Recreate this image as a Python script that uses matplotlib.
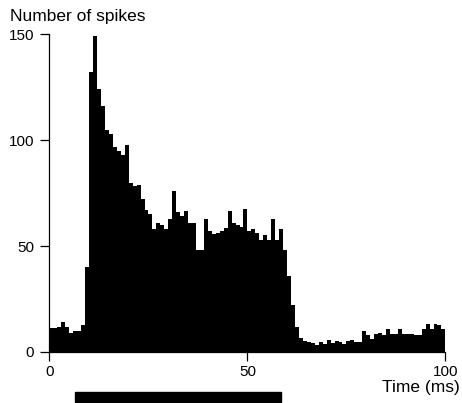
"""
Peristimulus time histogram: spike counts per 1 ms bin, with the stimulus bar below.
"""
import matplotlib
matplotlib.use("Agg")
import numpy as np
import matplotlib.pyplot as plt
import matplotlib.transforms as mtransforms
from matplotlib.patches import Rectangle

plt.rcParams['font.family'] = ['Liberation Sans', 'DejaVu Sans']

# Bin edges (ms) and spike counts per bin.
bin_edges = np.arange(0, 101, 1)
spike_counts = [
    11.5, 11.5, 12, 14, 12, 9, 10, 10, 12.7, 40,
    132, 149, 124, 116, 105, 103, 97, 95, 93, 97.5,
    80, 78.5, 79, 72, 67, 65, 58, 61, 60, 58,
    62.6, 76, 66, 64, 66.6, 61, 61, 48, 48, 62.6,
    57, 55.5, 56, 57, 58.7, 66.6, 61, 60, 59, 67.4,
    57, 58, 56, 53, 55, 53, 62.6, 53, 58, 48,
    36, 22, 12, 6.5, 5, 4.7, 4.3, 3.4, 4.7, 4,
    5.8, 4.2, 5.2, 4.7, 4, 5.2, 5.8, 4.7, 4.7, 9.7,
    7.9, 6.3, 8.7, 9, 7.9, 11, 8.7, 8.7, 11, 8.7,
    8.7, 8.3, 7.9, 7.9, 11, 13.4, 11, 13, 12.6, 11,
]

# Stimulus duration (ms), shown as a black bar under the time axis.
stim_on = 6.5
stim_off = 58.5

x_ticks = [0, 50, 100]
y_ticks = [0, 50, 100, 150]

fig = plt.figure(figsize=(4.62, 4.03), dpi=100)
ax = fig.add_axes([0.1071, 0.1266, 0.857, 0.7883])

ax.stairs(spike_counts, bin_edges, fill=True, color='black', linewidth=0)

ax.set_xlim(0, 100)
ax.set_ylim(0, 150)
ax.set_xticks(x_ticks)
ax.set_yticks(y_ticks)
ax.tick_params(axis='both', direction='out', length=6.5, width=0.9,
               labelsize=11, colors='black')
ax.tick_params(axis='x', pad=3)
ax.tick_params(axis='y', pad=4.5)

for side in ['top', 'right']:
    ax.spines[side].set_visible(False)
for side in ['left', 'bottom']:
    ax.spines[side].set_linewidth(0.9)
    ax.spines[side].set_color('black')

# Stimulus bar below the axis
trans = mtransforms.blended_transform_factory(ax.transData, ax.transAxes)
ax.add_patch(Rectangle((stim_on, -0.156), stim_off - stim_on, 0.031,
                       transform=trans, color='black', clip_on=False))

fig.text(10 / 462, 1 - 21 / 403, 'Number of spikes', fontsize=12.5,
         ha='left', va='baseline')
fig.text(460 / 462, 1 - 392 / 403, 'Time (ms)', fontsize=12.5,
         ha='right', va='baseline')

fig.savefig('out.png', dpi=100)
